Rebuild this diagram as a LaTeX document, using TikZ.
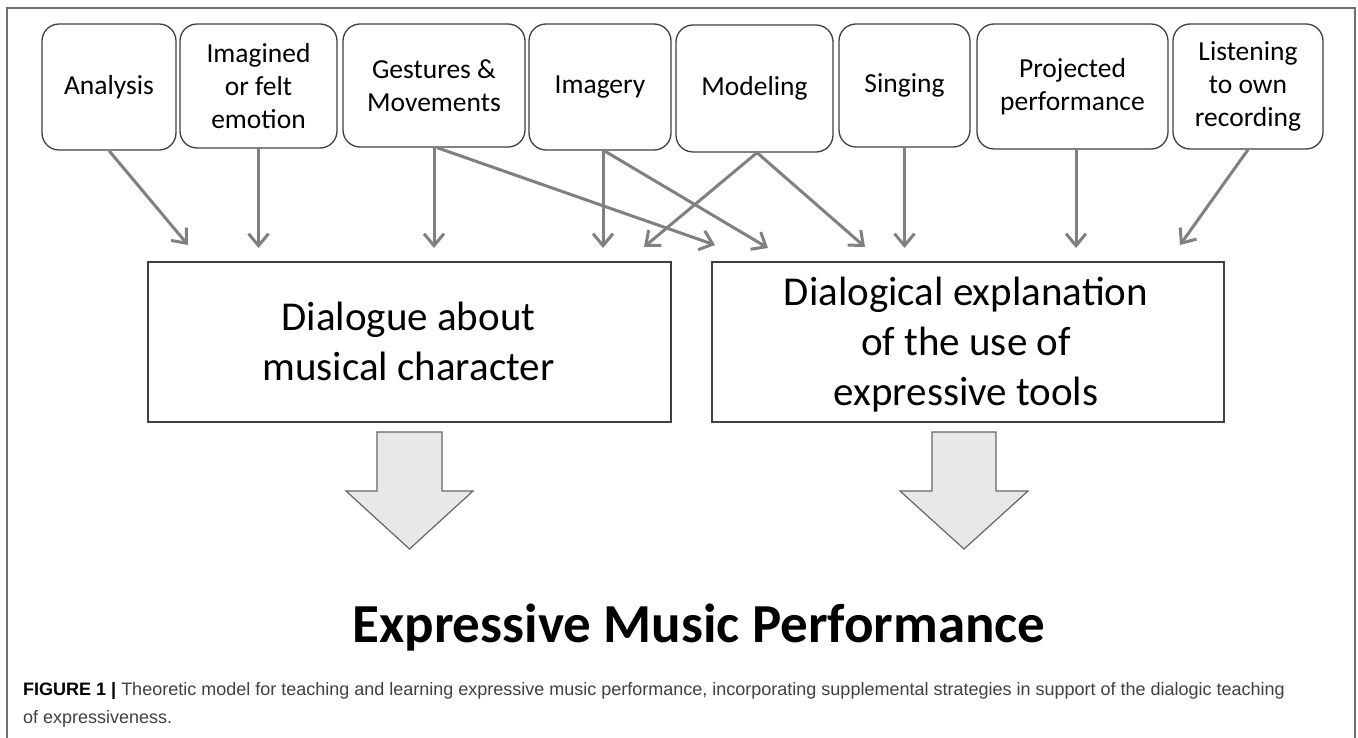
\documentclass[tikz,border=0pt]{standalone}
\usepackage{fontspec}
\setmainfont{Carlito}
\newfontfamily\capfont{Liberation Sans}
\usetikzlibrary{arrows.meta,calc}
\definecolor{boxline}{HTML}{404040}
\definecolor{frameline}{HTML}{707070}
\definecolor{arrgray}{HTML}{808080}
\definecolor{fillgray}{HTML}{E8E8E8}
\definecolor{captxt}{HTML}{404040}
\tikzset{
 topbox/.style={draw=boxline, line width=1.3pt, rounded corners=17pt, inner sep=0pt, align=center, font=\fontsize{27.5}{33}\selectfont},
 bigbox/.style={draw=boxline, line width=1.3pt, inner sep=0pt, minimum height=160pt},
 bigtext/.style={align=center, font=\fontsize{41}{50}\selectfont, inner sep=0pt, anchor=north},
 arr/.style={draw=arrgray, line width=3pt, -{Straight Barb[length=12pt,width=20pt]}},
 blockarr/.style={draw=boxline!80, fill=fillgray, line width=1.2pt, line join=miter},
}
\newcommand{\toprule}{\rule{0pt}{35pt}}
\begin{document}
\begin{tikzpicture}[x=1pt,y=-1pt]
\useasboundingbox[fill=white] (0,0) rectangle (1358,738);
% frame
\draw[draw=frameline, line width=1.2pt] (7,738) -- (7,8) -- (1355,8) -- (1355,738);
% top boxes
\node[topbox, minimum width=134pt, minimum height=126pt] (ana) at (109,87) {Analysis};
\node[topbox, minimum width=157pt, minimum height=124pt] (imf) at (258.5,86) {Imagined\\or felt\\emotion};
\node[topbox, minimum width=182pt, minimum height=123pt] (ges) at (434,85.5) {Gestures \&\\Movements};
\node[topbox, minimum width=142pt, minimum height=126pt] (img) at (600,87) {Imagery};
\node[topbox, minimum width=157pt, minimum height=127pt] (mod) at (754.5,88.5) {Modeling};
\node[topbox, minimum width=131pt, minimum height=123pt] (sin) at (904.5,85.5) {Singing};
\node[topbox, minimum width=191pt, minimum height=125pt] (pro) at (1072.5,86.5) {Projected\\performance};
\node[topbox, minimum width=150pt, minimum height=125pt] (lis) at (1248,86.5) {Listening\\to own\\recording};
% big boxes
\node[bigbox, minimum width=523pt] (lb) at (409.5,342) {};
\node[bigtext] (lbt) at (408.5,295) {\toprule Dialogue about\\musical character};
\node[bigbox, minimum width=512pt] (rb) at (968,342) {};
\node[bigtext] (rbt) at (966,270) {\toprule Dialogical explanation\\of the use of\\expressive tools};
% arrow end points
\coordinate (e1) at (188,245);
\coordinate (e2) at (258.5,248);
\coordinate (e3) at (434,248);
\coordinate (e4) at (715,245);
\coordinate (e5) at (603,248);
\coordinate (e6) at (768,248);
\coordinate (e7) at (644,247);
\coordinate (e8) at (865,247);
\coordinate (e9) at (904.5,248);
\coordinate (e10) at (1076,248);
\coordinate (e11) at (1180,245);
% connectors
\draw[arr] (ana.south) -- (e1);
\draw[arr] (imf.south) -- (e2);
\draw[arr] (ges.south) -- (e3);
\draw[arr] ([xshift=3pt]ges.south) -- (e4);
\draw[arr] ([xshift=3pt]img.south) -- (e5);
\draw[arr] ([xshift=4pt]img.south) -- (e6);
\draw[arr] ([xshift=2.5pt]mod.south) -- (e7);
\draw[arr] ([xshift=2.5pt]mod.south) -- (e8);
\draw[arr] (sin.south) -- (e9);
\draw[arr] ([xshift=3.5pt]pro.south) -- (e10);
\draw[arr] (lis.south) -- (e11);
% block arrows
\draw[blockarr] (377,432) -- (442,432) -- (442,491) -- (473,491) -- (409.5,549) -- (346,491) -- (377,491) -- cycle;
\draw[blockarr] (932,432) -- (996,432) -- (996,491) -- (1028,491) -- (964,549) -- (900,491) -- (932,491) -- cycle;
% title
\node[font=\fontsize{55}{60}\selectfont\bfseries, anchor=base, inner sep=0pt] (title) at (699,642) {Expressive Music Performance};
% caption
\node[anchor=north west, align=left, inner sep=0pt, font=\capfont\fontsize{18}{28}\selectfont, text=captxt] (cap) at (23,680) {\rule{0pt}{15pt}{\bfseries\color{black}FIGURE 1 |} Theoretic model for teaching and learning expressive music performance, incorporating supplemental strategies in support of the dialogic teaching\\of expressiveness.};
\end{tikzpicture}
\end{document}
